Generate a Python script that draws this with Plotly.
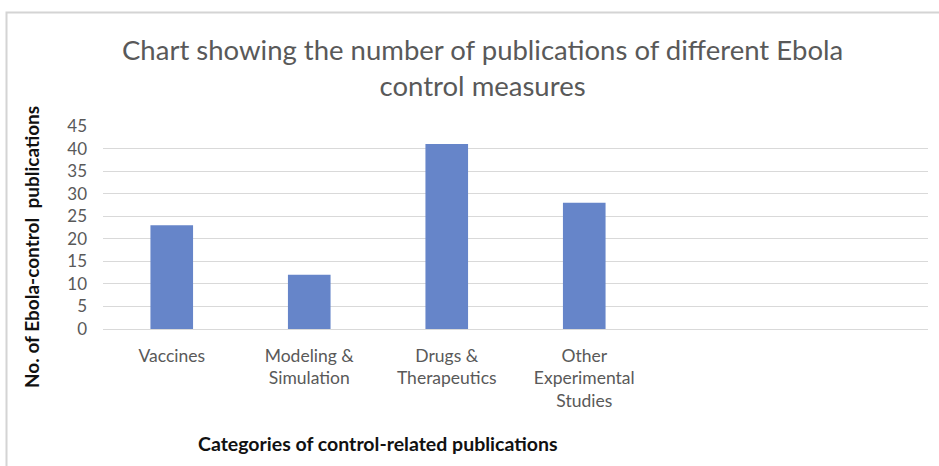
import plotly.graph_objects as go

categories = ["Vaccines", "Modeling &<br>Simulation", "Drugs &<br>Therapeutics",
              "Other<br>Experimental<br>Studies", " ", "  "]
values = [23, 12, 41, 28, None, None]
y_ticks = [0, 5, 10, 15, 20, 25, 30, 35, 40, 45]

W, H = 939, 466
ML, MR, MT, MB = 103, 11, 126, 137
PW, PH = W - ML - MR, H - MT - MB

def px_x(p):
    return (p - ML) / PW

def px_y(p):
    return (H - MB - p) / PH

FONT = "Lato"
GRAY = "#595959"

fig = go.Figure(go.Bar(x=categories, y=values, marker_color="#6685C9",
                       marker_line_width=0))

fig.update_layout(
    width=W, height=H, autosize=False,
    margin=dict(l=ML, r=MR, t=MT, b=MB, pad=0),
    paper_bgcolor="white", plot_bgcolor="white",
    bargap=0.69, showlegend=False,
    font=dict(family=FONT, color=GRAY),
)
fig.update_yaxes(range=[0, 45], tickvals=y_ticks, showgrid=True, gridcolor="#D9D9D9",
                 gridwidth=1, zeroline=True, zerolinecolor="#D9D9D9", zerolinewidth=1,
                 tickfont=dict(size=17, color=GRAY, family=FONT), ticks="",
                 ticklabelstandoff=15, fixedrange=True)
fig.update_xaxes(tickfont=dict(size=17.5, color=GRAY, family=FONT), ticks="",
                 showline=False, ticklabelstandoff=14, fixedrange=True)

# border of chart area (cropped at right/bottom)
fig.add_shape(type="rect", xref="paper", yref="paper",
              x0=px_x(6.5), x1=px_x(960), y0=px_y(490), y1=px_y(12.5),
              line=dict(color="#D4D4D4", width=2), fillcolor="rgba(0,0,0,0)", layer="below")

fig.add_annotation(text="Chart showing the number of publications of different Ebola<br>control measures",
                   xref="paper", yref="paper", x=px_x(482), y=px_y(68),
                   xanchor="center", yanchor="middle", showarrow=False,
                   font=dict(size=27.5, color=GRAY, family=FONT))
fig.add_annotation(text="<b>No. of Ebola-control  publications</b>", textangle=-90,
                   xref="paper", yref="paper", x=px_x(31), y=px_y(247),
                   xanchor="center", yanchor="middle", showarrow=False,
                   font=dict(size=19, color="#111111", family=FONT))
fig.add_annotation(text="<b>Categories of control-related publications</b>",
                   xref="paper", yref="paper", x=px_x(378), y=px_y(443),
                   xanchor="center", yanchor="middle", showarrow=False,
                   font=dict(size=19.5, color="#111111", family=FONT))

fig.write_html("out.html")
